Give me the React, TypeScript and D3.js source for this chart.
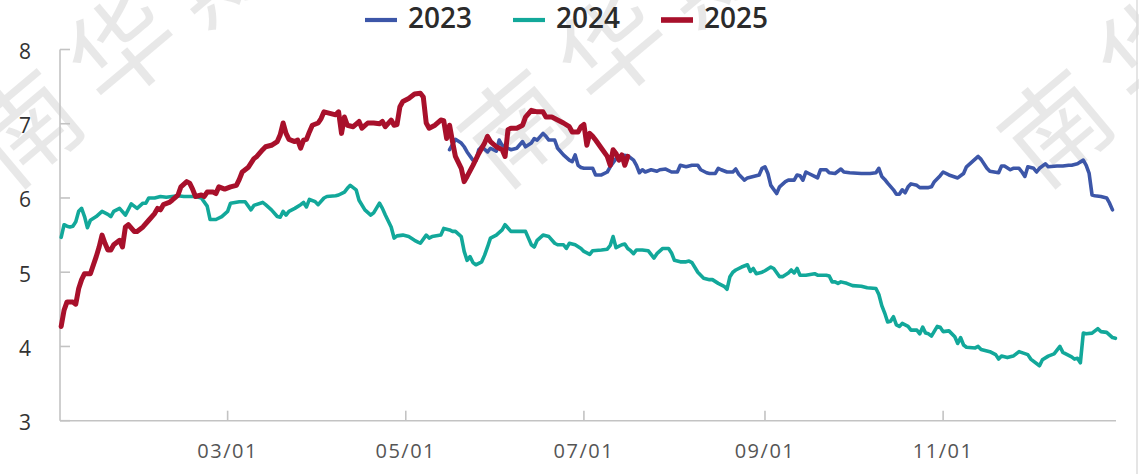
import React from 'react';
import * as d3 from 'd3';

// day of year (1 = Jan 1), value
const series2023: [number, number][] = [
  [136, 6.65], [138, 6.79], [140, 6.74], [141, 6.69], [142, 6.62], [144, 6.51], [145, 6.5], [146, 6.65],
  [147, 6.69], [149, 6.62], [150, 6.67], [152, 6.63], [153, 6.78], [154, 6.71], [156, 6.67], [157, 6.65],
  [159, 6.67], [161, 6.76], [162, 6.69], [164, 6.74], [165, 6.8], [166, 6.78], [168, 6.87], [169, 6.83],
  [170, 6.78], [172, 6.78], [173, 6.67], [175, 6.58], [177, 6.51], [178, 6.49], [179, 6.58], [180, 6.44],
  [181, 6.41], [182, 6.4], [185, 6.4], [186, 6.31], [188, 6.31], [190, 6.35], [191, 6.42], [193, 6.53],
  [195, 6.58], [197, 6.57], [199, 6.51], [200, 6.44], [201, 6.34], [202, 6.38], [203, 6.35], [205, 6.38],
  [207, 6.36], [208, 6.38], [210, 6.39], [212, 6.35], [214, 6.35], [215, 6.44], [217, 6.42], [219, 6.44],
  [221, 6.44], [222, 6.38], [224, 6.34], [225, 6.33], [227, 6.33], [228, 6.4], [229, 6.38], [231, 6.35],
  [233, 6.35], [234, 6.39], [235, 6.32], [237, 6.24], [238, 6.27], [240, 6.29], [242, 6.31], [243, 6.4],
  [244, 6.42], [245, 6.33], [246, 6.17], [248, 6.06], [249, 6.15], [251, 6.22], [252, 6.24], [254, 6.24],
  [255, 6.31], [256, 6.3], [257, 6.24], [258, 6.35], [259, 6.33], [261, 6.29], [262, 6.27], [263, 6.38],
  [265, 6.38], [266, 6.34], [268, 6.33], [270, 6.39], [271, 6.35], [273, 6.34], [277, 6.33], [280, 6.33],
  [282, 6.34], [283, 6.4], [284, 6.29], [285, 6.25], [286, 6.2], [288, 6.11], [289, 6.05], [290, 6.05],
  [291, 6.11], [292, 6.07], [293, 6.15], [294, 6.19], [296, 6.17], [297, 6.14], [300, 6.14], [301, 6.15],
  [302, 6.22], [304, 6.3], [305, 6.35], [307, 6.31], [310, 6.27], [312, 6.33], [313, 6.42], [315, 6.49],
  [317, 6.56], [318, 6.52], [320, 6.4], [321, 6.36], [324, 6.34], [325, 6.43], [326, 6.43], [328, 6.38],
  [329, 6.4], [331, 6.4], [332, 6.35], [333, 6.29], [334, 6.42], [336, 6.4], [337, 6.35], [338, 6.4],
  [340, 6.46], [341, 6.42], [344, 6.43], [346, 6.43], [348, 6.44], [349, 6.44], [351, 6.46], [353, 6.51],
  [354, 6.44], [355, 6.33], [356, 6.04], [357, 6.03], [359, 6.02], [361, 6.0], [362, 5.93], [363, 5.84],
];

const series2024: [number, number][] = [
  [3, 5.47], [4, 5.64], [5, 5.62], [6, 5.61], [7, 5.62], [8, 5.68], [9, 5.82], [10, 5.86], [11, 5.75],
  [12, 5.6], [13, 5.7], [15, 5.75], [17, 5.82], [19, 5.78], [20, 5.75], [21, 5.82], [23, 5.86], [25, 5.77],
  [27, 5.92], [28, 5.89], [29, 5.86], [31, 5.93], [32, 5.93], [33, 6.0], [35, 6.0], [37, 6.02], [39, 6.01],
  [41, 6.02], [43, 6.03], [45, 6.02], [49, 6.02], [51, 6.0], [53, 5.89], [54, 5.71], [56, 5.71], [58, 5.75],
  [60, 5.82], [61, 5.93], [64, 5.95], [66, 5.95], [68, 5.84], [69, 5.9], [72, 5.94], [73, 5.91], [75, 5.84],
  [77, 5.75], [78, 5.74], [79, 5.82], [80, 5.77], [81, 5.82], [83, 5.86], [85, 5.91], [86, 5.94], [87, 5.88],
  [88, 5.98], [90, 5.95], [91, 5.91], [93, 6.0], [94, 6.02], [97, 6.03], [98, 6.04], [100, 6.08], [101, 6.13],
  [102, 6.17], [104, 6.11], [105, 5.97], [107, 5.84], [109, 5.77], [110, 5.8], [112, 5.93], [113, 5.86],
  [114, 5.77], [116, 5.61], [117, 5.46], [118, 5.49], [120, 5.5], [122, 5.48], [124, 5.43], [125, 5.41],
  [126, 5.39], [128, 5.5], [129, 5.46], [130, 5.48], [133, 5.5], [134, 5.59], [136, 5.57], [137, 5.55],
  [138, 5.55], [140, 5.48], [141, 5.28], [142, 5.16], [143, 5.21], [144, 5.13], [145, 5.1], [147, 5.14],
  [148, 5.23], [149, 5.34], [150, 5.46], [152, 5.5], [154, 5.57], [155, 5.64], [157, 5.55], [158, 5.55],
  [162, 5.55], [164, 5.37], [165, 5.34], [166, 5.43], [168, 5.5], [170, 5.48], [172, 5.39], [173, 5.37],
  [175, 5.37], [176, 5.32], [177, 5.39], [179, 5.37], [181, 5.32], [182, 5.28], [184, 5.24], [185, 5.29],
  [188, 5.3], [190, 5.31], [191, 5.36], [192, 5.48], [193, 5.33], [195, 5.37], [196, 5.38], [197, 5.32],
  [198, 5.29], [199, 5.25], [200, 5.3], [202, 5.3], [204, 5.29], [206, 5.19], [207, 5.25], [209, 5.32],
  [211, 5.32], [212, 5.26], [213, 5.16], [215, 5.14], [217, 5.14], [218, 5.15], [219, 5.13], [221, 5.0],
  [223, 4.92], [225, 4.9], [226, 4.9], [228, 4.85], [230, 4.81], [231, 4.77], [232, 4.94], [233, 5.0],
  [234, 5.03], [236, 5.07], [238, 5.1], [239, 5.01], [240, 5.05], [241, 4.98], [243, 5.0], [244, 5.02],
  [246, 5.07], [247, 5.05], [249, 4.94], [250, 4.94], [252, 4.99], [253, 5.03], [254, 4.99], [255, 5.05],
  [256, 4.96], [258, 4.96], [261, 4.98], [262, 4.96], [265, 4.96], [266, 4.95], [267, 4.87], [268, 4.87],
  [269, 4.85], [270, 4.87], [272, 4.85], [274, 4.82], [277, 4.81], [279, 4.79], [282, 4.78], [283, 4.7],
  [284, 4.55], [285, 4.45], [286, 4.33], [287, 4.34], [288, 4.4], [289, 4.29], [290, 4.27], [291, 4.31],
  [293, 4.27], [294, 4.22], [296, 4.22], [297, 4.17], [298, 4.26], [299, 4.18], [300, 4.17], [301, 4.14],
  [303, 4.27], [304, 4.26], [305, 4.2], [307, 4.21], [309, 4.13], [310, 4.04], [311, 4.12], [312, 4.02],
  [313, 3.99], [316, 3.98], [317, 4.0], [318, 3.96], [321, 3.93], [323, 3.89], [324, 3.83], [325, 3.87],
  [327, 3.85], [329, 3.87], [331, 3.93], [334, 3.89], [335, 3.83], [338, 3.74], [339, 3.82], [341, 3.87],
  [343, 3.9], [345, 4.0], [346, 3.92], [349, 3.86], [350, 3.83], [351, 3.84], [352, 3.78], [353, 4.18],
  [354, 4.17], [356, 4.18], [358, 4.24], [359, 4.2], [361, 4.19], [363, 4.12], [364, 4.11],
];

const series2025: [number, number][] = [
  [3, 4.27], [4, 4.49], [5, 4.6], [7, 4.6], [8, 4.57], [9, 4.78], [10, 4.9], [11, 4.98], [13, 4.98],
  [15, 5.21], [16, 5.34], [17, 5.5], [18, 5.39], [19, 5.3], [20, 5.3], [21, 5.37], [23, 5.43], [24, 5.34],
  [25, 5.61], [26, 5.64], [28, 5.55], [29, 5.55], [31, 5.61], [33, 5.7], [35, 5.79], [36, 5.86], [37, 5.84],
  [38, 5.91], [40, 5.94], [41, 5.97], [43, 6.04], [44, 6.15], [46, 6.22], [47, 6.2], [48, 6.12], [49, 6.02],
  [51, 6.04], [52, 6.02], [53, 6.08], [55, 6.08], [56, 6.06], [57, 6.15], [59, 6.12], [61, 6.15], [63, 6.17],
  [64, 6.25], [65, 6.35], [67, 6.41], [69, 6.53], [70, 6.56], [72, 6.65], [73, 6.69], [75, 6.71], [77, 6.76],
  [78, 6.85], [79, 7.01], [80, 6.87], [81, 6.79], [83, 6.76], [84, 6.78], [85, 6.67], [86, 6.78], [87, 6.79],
  [88, 6.89], [89, 6.98], [91, 7.01], [92, 7.07], [93, 7.16], [95, 7.14], [97, 7.12], [98, 7.16], [99, 6.87],
  [100, 7.09], [101, 6.98], [103, 6.96], [105, 7.03], [106, 6.94], [108, 7.01], [110, 7.01], [112, 7.0],
  [113, 7.03], [114, 6.96], [116, 7.05], [117, 6.98], [118, 6.99], [119, 7.23], [120, 7.3], [122, 7.34],
  [124, 7.4], [126, 7.41], [127, 7.36], [128, 7.01], [129, 6.94], [131, 6.98], [133, 7.05], [134, 7.04],
  [135, 6.8], [136, 6.98], [137, 6.76], [138, 6.56], [140, 6.4], [141, 6.22], [142, 6.29], [144, 6.44],
  [146, 6.6], [148, 6.74], [149, 6.83], [150, 6.76], [152, 6.69], [154, 6.65], [155, 6.56], [156, 6.92],
  [157, 6.94], [159, 6.94], [161, 6.98], [162, 7.09], [164, 7.18], [166, 7.16], [168, 7.16], [169, 7.09],
  [171, 7.09], [173, 7.05], [175, 7.01], [177, 6.96], [178, 6.89], [180, 6.89], [181, 6.96], [182, 6.99],
  [183, 6.71], [184, 6.87], [185, 6.83], [186, 6.78], [188, 6.67], [190, 6.56], [191, 6.44], [192, 6.65],
  [193, 6.6], [194, 6.51], [195, 6.58], [196, 6.44], [197, 6.56],
];

const yTicks = [3, 4, 5, 6, 7, 8];
const xTickDays = [60, 121, 182, 244, 305];
const xTickLabels = ['03/01', '05/01', '07/01', '09/01', '11/01'];

const legendItems = [
  { name: '2023', color: '#3c56a8', width: 3.6 },
  { name: '2024', color: '#12a89a', width: 3.6 },
  { name: '2025', color: '#a8102b', width: 5 },
];
const seriesData = [series2023, series2024, series2025];

const W = 1139;
const H = 474;
const font = '"Open Sans", "Noto Sans", sans-serif';

export default function App() {
  const x = d3.scaleLinear().domain([2.6, 364.2]).range([60, 1116]);
  const y = d3.scaleLinear().domain([3, 8]).range([420.7, 49.5]);
  const line = d3.line<[number, number]>().x(d => x(d[0])).y(d => y(d[1]));

  const axisColor = '#c3c3c3';
  const watermarks = [[11, 191], [501, 191], [1041, 191]];

  return (
    <div style={{ position: 'absolute', left: 0, top: 0, width: W, height: H, background: '#fff' }}>
      <svg width={W} height={H} style={{ display: 'block', fontFamily: font }}>
        <rect width={W} height={H} fill="#fff" />

        {/* watermark */}
        {watermarks.map(([wx, wy], i) => (
          <text key={i} transform={`translate(${wx},${wy}) rotate(-40)`} fontFamily='"Noto Sans CJK SC"'
            fontSize={105} fill="#000" fillOpacity={0.09} letterSpacing={20}>南华期货</text>
        ))}

        {/* right border */}
        <line x1={1137} x2={1137} y1={0} y2={H} stroke="#dcdcdc" strokeWidth={1.5} />

        {/* axes */}
        <line x1={60} x2={60} y1={y(8)} y2={y(3)} stroke={axisColor} strokeWidth={1.6} />
        <line x1={60} x2={1116} y1={y(3)} y2={y(3)} stroke={axisColor} strokeWidth={1.6} />
        {yTicks.map(t => (
          <g key={t}>
            <line x1={60} x2={70} y1={y(t)} y2={y(t)} stroke={axisColor} strokeWidth={1.6} />
            <text x={31} y={y(t) + 9.5} textAnchor="end" fontSize={21} fill="#333">{t}</text>
          </g>
        ))}
        {xTickDays.map((d, i) => (
          <g key={d}>
            <line x1={x(d)} x2={x(d)} y1={y(3)} y2={y(3) - 10} stroke={axisColor} strokeWidth={1.6} />
            <text x={x(d)} y={458} textAnchor="middle" fontSize={20} fill="#555" letterSpacing={1.5}>{xTickLabels[i]}</text>
          </g>
        ))}

        {/* series */}
        {seriesData.map((s, i) => (
          <path key={i} d={line(s) || ''} fill="none" stroke={legendItems[i].color}
            strokeWidth={legendItems[i].width} strokeLinejoin="round" strokeLinecap="round" />
        ))}

        {/* legend */}
        {legendItems.map((it, i) => {
          const lx = 365 + i * 148;
          return (
            <g key={it.name}>
              <line x1={lx} x2={lx + 32} y1={20} y2={20} stroke={it.color} strokeWidth={it.width + 0.6} />
              <text x={lx + 43} y={28} fontSize={28} fill="#2b2b2b" fontWeight={600}>{it.name}</text>
            </g>
          );
        })}
      </svg>
    </div>
  );
}
